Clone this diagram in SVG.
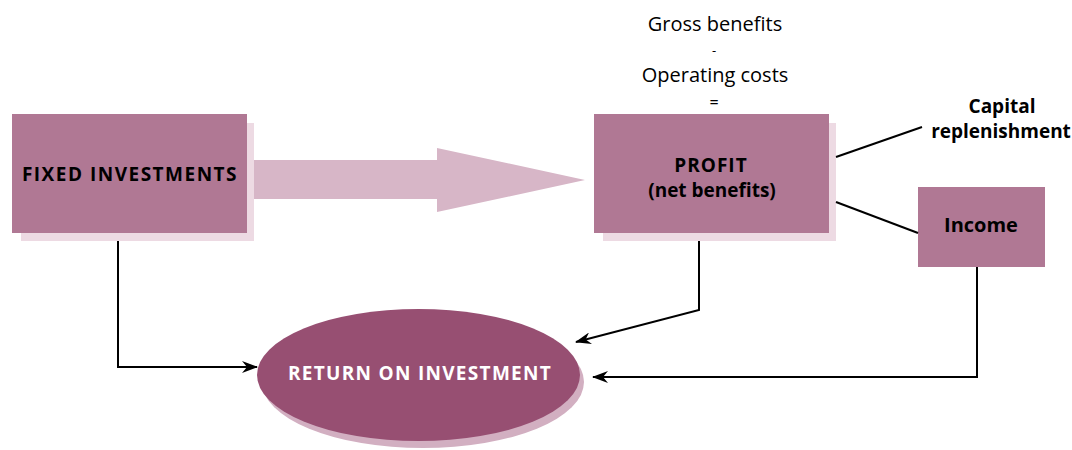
<svg xmlns="http://www.w3.org/2000/svg" width="1072" height="450" viewBox="0 0 1072 450">
<style>
.box{fill:#B07894}
.shadow{fill:#EDDAE3}
.lbl{font-family:"Open Sans","DejaVu Sans",sans-serif;fill:#000}
.b{font-weight:bold}
.conn{fill:none;stroke:#000;stroke-width:2}
</style>
<defs>
<marker id="ah" viewBox="0 0 16 12" refX="15" refY="6" markerWidth="16" markerHeight="12" markerUnits="userSpaceOnUse" orient="auto">
<path d="M0,0 L16,6 L0,12 L5,6 Z" fill="#000"/>
</marker>
</defs>
<rect width="1072" height="450" fill="#fff"/>

<g id="formula">
<text class="lbl" x="715" y="31" font-size="20" text-anchor="middle">Gross benefits</text>
<text class="lbl" x="714" y="55" font-size="13" text-anchor="middle">-</text>
<text class="lbl" x="715" y="82" font-size="20" text-anchor="middle">Operating costs</text>
<text class="lbl" x="714" y="108" font-size="16" text-anchor="middle">=</text>
</g>

<g id="big-arrow">
<polygon points="254,160 437,160 437,148 585,180 437,212 437,199 254,199" fill="#D7B6C7"/>
</g>

<g id="fixed-investments">
<rect class="shadow" x="21" y="123" width="233" height="118"/>
<rect class="box" x="12" y="114" width="235" height="119"/>
<text class="lbl b" x="130" y="181" font-size="19" text-anchor="middle" letter-spacing="1.5">FIXED INVESTMENTS</text>
</g>

<g id="profit">
<rect class="shadow" x="603" y="123" width="233" height="118"/>
<rect class="box" x="594" y="114" width="235" height="119"/>
<text class="lbl b" x="711" y="172" font-size="19" text-anchor="middle" letter-spacing="1">PROFIT</text>
<text class="lbl b" x="712" y="197" font-size="19" text-anchor="middle">(net benefits)</text>
</g>

<g id="capital">
<text class="lbl b" x="1002" y="113" font-size="19" text-anchor="middle">Capital</text>
<text class="lbl b" x="1001" y="138" font-size="19" text-anchor="middle">replenishment</text>
</g>

<g id="income">
<rect class="box" x="918" y="187" width="127" height="80"/>
<text class="lbl b" x="981" y="232" font-size="20" text-anchor="middle">Income</text>
</g>

<g id="roi">
<ellipse cx="423" cy="382" rx="161" ry="66" fill="#D2AFC1"/>
<ellipse cx="418.5" cy="375" rx="161.5" ry="66" fill="#974F72"/>
<text class="lbl b" x="420" y="380" font-size="19" text-anchor="middle" letter-spacing="1.3" style="fill:#fff">RETURN ON INVESTMENT</text>
</g>

<g id="connectors">
<line class="conn" x1="836" y1="157" x2="922" y2="127"/>
<line class="conn" x1="836" y1="202" x2="918" y2="233"/>
<polyline class="conn" points="118,241 118,367 257,367" marker-end="url(#ah)"/>
<polyline class="conn" points="699,241 699,310 576,342" marker-end="url(#ah)"/>
<polyline class="conn" points="977,267 977,377 593,377" marker-end="url(#ah)"/>
</g>
</svg>
